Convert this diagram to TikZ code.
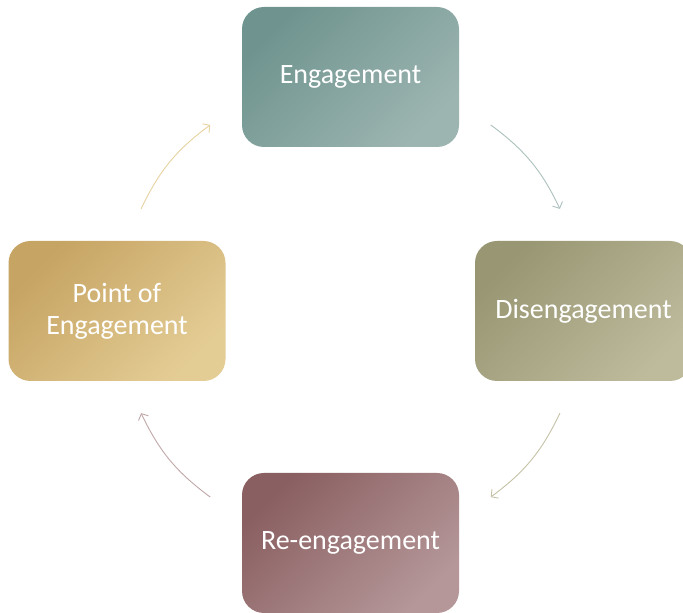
\documentclass[tikz,border=0pt]{standalone}
\usepackage{fontspec}
\setmainfont{Carlito}
\usetikzlibrary{arrows.meta}
\definecolor{engA}{HTML}{6F948F}
\definecolor{engB}{HTML}{9DB5B1}
\definecolor{disA}{HTML}{999673}
\definecolor{disB}{HTML}{BDBB9C}
\definecolor{reA}{HTML}{8A5F61}
\definecolor{reB}{HTML}{B59799}
\definecolor{poiA}{HTML}{C6A463}
\definecolor{poiB}{HTML}{E4CD95}
\tikzset{
  stage/.style={rounded corners=22pt, minimum width=217pt, minimum height=140pt,
    text=white, align=center, font=\fontsize{28}{32}\selectfont},
  cyc/.style={->, >={Straight Barb[length=5pt,width=11pt]}, line width=0.9pt}
}
\begin{document}
\begin{tikzpicture}[x=1pt,y=1pt]
            \useasboundingbox (0,0) rectangle (683,613);

            \node[stage, top color=engA, bottom color=engB, shading angle=45] (eng) at (350.5,536) {Engagement};
            \node[stage, top color=disA, bottom color=disB, shading angle=45] (dis) at (583.5,302) {Disengagement};
            \node[stage, top color=reA, bottom color=reB, shading angle=45] (re) at (350.5,70) {Re-engagement};
            \node[stage, top color=poiA, bottom color=poiB, shading angle=45] (poi) at (117,302) {Point of\\Engagement};

            \coordinate (mid) at (350.5,302);
            \coordinate (a1) at ([shift={(53:233)}]mid);
            \coordinate (b1) at ([shift={(26:233)}]mid);
            \coordinate (a2) at ([shift={(-26:233)}]mid);
            \coordinate (b2) at ([shift={(-53:233)}]mid);
            \coordinate (a3) at ([shift={(-127:233)}]mid);
            \coordinate (b3) at ([shift={(-154:233)}]mid);
            \coordinate (a4) at ([shift={(154:233)}]mid);
            \coordinate (b4) at ([shift={(127:233)}]mid);

            \draw[cyc, color=engB!85!white] (a1) to[bend left=14] (b1);
            \draw[cyc, color=disB!90!white] (a2) to[bend left=14] (b2);
            \draw[cyc, color=reB!85!white] (a3) to[bend left=14] (b3);
            \draw[cyc, color=poiB!90!white] (a4) to[bend left=14] (b4);
        \end{tikzpicture}
\end{document}
